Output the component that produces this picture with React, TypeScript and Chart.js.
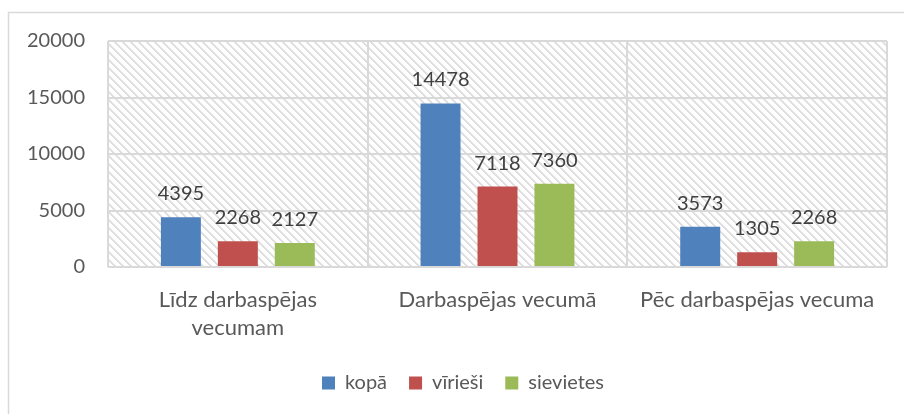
import React, { useEffect, useRef } from "react";
import { Chart, registerables } from "chart.js";

Chart.register(...registerables);

const categories: (string | string[])[] = [
  ["Līdz darbaspējas", "vecumam"],
  "Darbaspējas vecumā",
  "Pēc darbaspējas vecuma",
];
const seriesNames = ["kopā", "vīrieši", "sievietes"];
const kopa = [4395, 14478, 3573];
const virie = [2268, 7118, 1305];
const sievietes = [2127, 7360, 2268];
const yTicks = [0, 5000, 10000, 15000, 20000];

const FONT = "Lato, 'Open Sans', sans-serif";

function makePattern(): CanvasPattern | string {
  const c = document.createElement("canvas");
  c.width = 8;
  c.height = 8;
  const ctx = c.getContext("2d");
  if (!ctx) return "#ffffff";
  ctx.fillStyle = "#ffffff";
  ctx.fillRect(0, 0, 8, 8);
  for (let y = 0; y < 8; y++) {
    for (let x = 0; x < 8; x++) {
      const d = (((x - y) % 8) + 8) % 8;
      if (d === 0 || d === 1) {
        ctx.fillStyle = "#dedede";
        ctx.fillRect(x, y, 1, 1);
      } else if (d === 2) {
        ctx.fillStyle = "#ececec";
        ctx.fillRect(x, y, 1, 1);
      }
    }
  }
  const p = ctx.createPattern(c, "repeat");
  return p || "#ffffff";
}

export default function App() {
  const ref = useRef<HTMLCanvasElement | null>(null);

  useEffect(() => {
    if (!ref.current) return;
    const pattern = makePattern();

    const bgPlugin = {
      id: "bgPlugin",
      afterLayout(chart: any) {
        if (chart.legend) {
          chart.legend.left = 39;
        }
      },
      beforeDraw(chart: any) {
        const { ctx, chartArea } = chart;
        ctx.save();
        ctx.fillStyle = "#ffffff";
        ctx.fillRect(0, 0, chart.width, chart.height);
        ctx.strokeStyle = "#d9d9d9";
        ctx.lineWidth = 1.5;
        ctx.strokeRect(8.5, 12.5, chart.width + 20, chart.height + 20);
        ctx.fillStyle = pattern as any;
        ctx.fillRect(
          chartArea.left,
          chartArea.top,
          chartArea.right - chartArea.left,
          chartArea.bottom - chartArea.top
        );
        ctx.restore();
      },
    };

    const labelPlugin = {
      id: "valueLabels",
      afterDatasetsDraw(chart: any) {
        const { ctx } = chart;
        ctx.save();
        ctx.font = `20px ${FONT}`;
        ctx.fillStyle = "#404040";
        ctx.textAlign = "center";
        ctx.textBaseline = "alphabetic";
        chart.data.datasets.forEach((ds: any, i: number) => {
          const meta = chart.getDatasetMeta(i);
          meta.data.forEach((bar: any, j: number) => {
            ctx.fillText(String(ds.data[j]), bar.x, bar.y - 17);
          });
        });
        ctx.restore();
      },
    };

    const chart = new Chart(ref.current, {
      type: "bar",
      data: {
        labels: categories as any,
        datasets: [
          { label: seriesNames[0], data: kopa, backgroundColor: "#4f81bd" },
          { label: seriesNames[1], data: virie, backgroundColor: "#c0504d" },
          { label: seriesNames[2], data: sievietes, backgroundColor: "#9bbb59" },
        ],
      },
      options: {
        responsive: false,
        animation: false,
        devicePixelRatio: 1,
        layout: { padding: { top: 41, right: 17, left: 0, bottom: 11 } },
        datasets: {
          bar: { categoryPercentage: 0.658, barPercentage: 0.702 },
        },
        plugins: {
          legend: {
            position: "bottom",
            labels: {
              boxWidth: 13,
              boxHeight: 13,
              padding: 22,
              color: "#595959",
              font: { family: FONT, size: 20 },
            },
          },
          tooltip: { enabled: false },
        },
        scales: {
          x: {
            grid: {
              color: "#d9d9d9",
              lineWidth: 2,
              drawTicks: false,
              offset: true,
            },
            border: { display: false },
            ticks: {
              color: "#595959",
              font: { family: FONT, size: 22, lineHeight: 1.27 },
              padding: 19,
              maxRotation: 0,
              autoSkip: false,
            },
            afterFit: (scale: any) => {
              scale.height = 84;
            },
          },
          y: {
            min: 0,
            max: 20000,
            afterBuildTicks: (scale: any) => {
              scale.ticks = yTicks.map((v) => ({ value: v }));
            },
            grid: { color: "#d9d9d9", lineWidth: 2, drawTicks: false },
            border: { display: false },
            ticks: {
              color: "#595959",
              font: { family: FONT, size: 20 },
              padding: 23,
              callback: (v: any) => String(v),
            },
            afterFit: (scale: any) => {
              scale.width = 108;
            },
          },
        },
      },
      plugins: [bgPlugin, labelPlugin],
    });
    return () => chart.destroy();
  }, []);

  return (
    <div style={{ position: "absolute", left: 0, top: 0, width: 904, height: 414 }}>
      <canvas ref={ref} width={904} height={414} style={{ display: "block" }} />
    </div>
  );
}
